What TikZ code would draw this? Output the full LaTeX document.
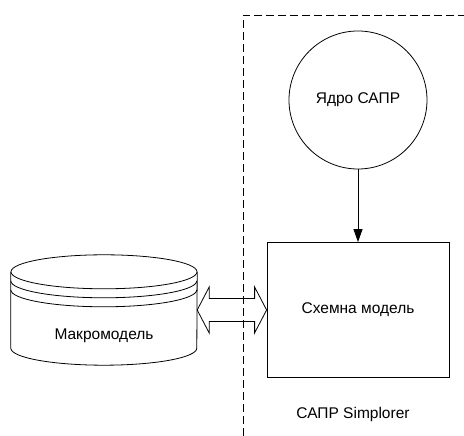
\documentclass[tikz,border=0pt]{standalone}
\usepackage{fontspec}
\setmainfont{Liberation Sans}
\usetikzlibrary{arrows.meta,calc}

\begin{document}
\begin{tikzpicture}[x=1pt, y=1pt,
		every node/.style={font=\fontsize{15.5}{18}\selectfont},
		block/.style={draw, line width=0.8pt, minimum width=182pt, minimum height=135pt},
		kernel/.style={draw, circle, line width=0.8pt, minimum size=138pt, inner sep=0pt},
		store/.style={minimum width=186pt, minimum height=76pt, inner sep=0pt},
		dbline/.style={line width=0.8pt},
		frame/.style={dash pattern=on 8pt off 4pt, line width=0.8pt}
	]
	\useasboundingbox (0,0) rectangle (464,436);

	\node[kernel] (core) at (358,336) {Ядро САПР};
	\node[block] (scheme) at (358,126) {Схемна модель};
	\node[store] (db) at (104,126) {};
	\node (dbtext) at (104,100) {Макромодель};
	\node (tool) at (353,22) {САПР Simplorer};

	% boundary of the CAD part
	\draw[frame] (243,0) -- (243,421) -- (464,421);

	% database drum
	\draw[dbline] (db.north) ellipse[x radius=93pt, y radius=17pt];
	\draw[dbline] ([yshift=-9pt]db.north west) arc[start angle=180, end angle=360, x radius=93pt, y radius=17pt];
	\draw[dbline] ([yshift=-18pt]db.north west) arc[start angle=180, end angle=360, x radius=93pt, y radius=17pt];
	\draw[dbline] (db.north west) -- (db.south west) arc[start angle=180, end angle=360, x radius=93pt, y radius=17pt] -- (db.north east);

	\draw[-{Triangle[length=13pt,width=9pt]}, line width=0.8pt] (core) -- (scheme);

	% two-way exchange
	\draw[dbline] (db.east) -- ++(12,23) -- ++(0,-11.5) -- ($(scheme.west)+(-12,11.5)$) -- ++(0,11.5) -- (scheme.west)
		-- ++(-12,-23) -- ++(0,11.5) -- ($(db.east)+(12,-11.5)$) -- ++(0,-11.5) -- cycle;

\end{tikzpicture}
\end{document}
